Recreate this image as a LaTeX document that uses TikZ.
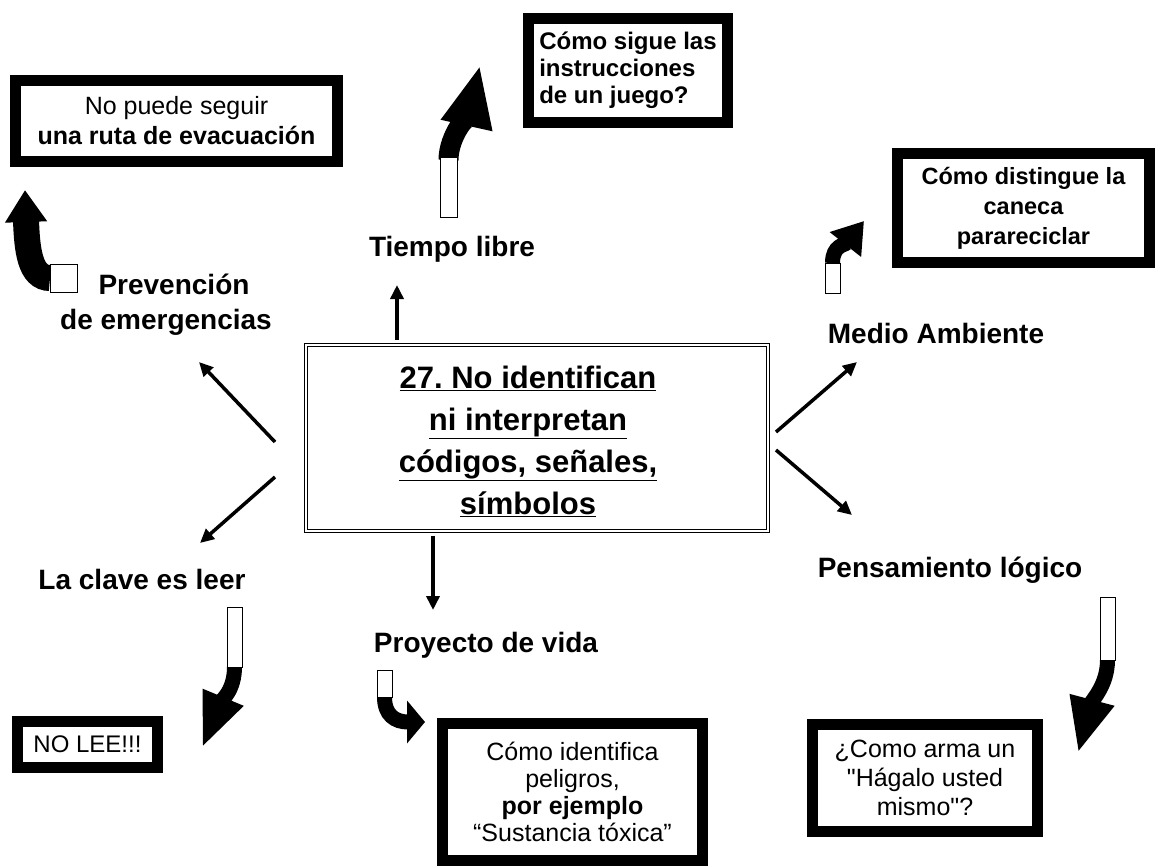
\documentclass[tikz,border=0pt]{standalone}
\usepackage{fontspec}
\setmainfont{Liberation Sans}
\usetikzlibrary{arrows.meta, positioning}
\frenchspacing

\tikzset{
  etiqueta/.style={font=\bfseries\fontsize{28}{35}\selectfont, inner sep=0pt, align=center},
  cajon/.style={draw, line width=11pt, fill=white, inner sep=0pt, align=center},
  marco/.style={draw, double, double distance=2.5pt, line width=1pt, minimum width=462pt, minimum height=186pt},
  flecha/.style={line width=3.5pt, -{Triangle[length=14pt,width=13pt]}},
  cola/.style={draw, fill=white, line width=1pt},
}

\begin{document}
\begin{tikzpicture}[x=1pt,y=-1pt]
  \useasboundingbox (0,0) rectangle (1159,867);

  % central box
  \node[marco] (prob) at (537,438) {};
  \node[font=\bfseries\fontsize{31}{42}\selectfont, align=center, inner sep=0pt] (probtxt) at (528,441)
    {\underline{27. No identifican}\\\underline{ni interpretan}\\\underline{códigos, señales,}\\\underline{símbolos}};

  % labels
  \node[etiqueta, anchor=base] (tiempo) at (452,256) {Tiempo libre};
  \node[etiqueta] (prev) at (166,305) {\hspace*{16pt}Prevención\\de emergencias};
  \node[etiqueta, anchor=base] (medio) at (936,343) {Medio Ambiente};
  \node[etiqueta, anchor=base] (pens) at (950,577) {Pensamiento lógico};
  \node[etiqueta, anchor=base] (proy) at (486,652) {Proyecto de vida};
  \node[etiqueta, anchor=base] (clave) at (142,589) {La clave es leer};

  % boxes
  \node[cajon, minimum width=322pt, minimum height=81pt, font=\fontsize{25}{30}\selectfont] (b1) at (176.5,121)
    {No puede seguir\\\textbf{una ruta de evacuación}};
  \node[cajon, minimum width=199pt, minimum height=104pt, align=left, font=\bfseries\fontsize{24}{27}\selectfont] (b2) at (628,70.5)
    {Cómo sigue las\\instrucciones\\de un juego?};
  \node[cajon, minimum width=252pt, minimum height=109pt, font=\bfseries\fontsize{23.5}{30}\selectfont] (b3) at (1023.5,208)
    {Cómo distingue la\\caneca\\parareciclar};
  \node[cajon, minimum width=140pt, minimum height=46pt, font=\fontsize{24}{28}\selectfont] (b4) at (87.5,744.5)
    {NO LEE!!!};
  \node[cajon, minimum width=260pt, minimum height=137pt, font=\fontsize{25}{27}\selectfont] (b5) at (572.5,792)
    {Cómo identifica\\peligros,\\\textbf{por ejemplo}\\“Sustancia tóxica”};
  \node[cajon, minimum width=225pt, minimum height=107pt, font=\fontsize{25}{29}\selectfont] (b6) at (925,778)
    {¿Como arma un\\\textquotedbl Hágalo usted\\mismo\textquotedbl?};

  % straight arrows
  \coordinate (up) at (397,285);
  \coordinate (dn) at (433,610);
  \draw[flecha, shorten <=5pt] (prob.north -| up) -- (up);
  \draw[flecha, shorten <=4pt] (prob.south -| dn) -- (dn);
  \coordinate (lu0) at (275,442); \coordinate (lu1) at (199,362);
  \coordinate (ld0) at (275,477); \coordinate (ld1) at (200,543);
  \coordinate (ru0) at (776,432); \coordinate (ru1) at (857,362);
  \coordinate (rd0) at (776,450); \coordinate (rd1) at (852,515);
  \draw[flecha] (lu0) -- (lu1);
  \draw[flecha] (ld0) -- (ld1);
  \draw[flecha] (ru0) -- (ru1);
  \draw[flecha] (rd0) -- (rd1);

  % curved block arrows
  \draw[line width=26pt, -{Triangle[length=32pt,width=40pt]}] (50,278) .. controls (30,278) and (27,250) .. (25,190);
  \draw[cola] (50,264) rectangle (77,292);

  \draw[line width=20pt, -{Triangle[length=62pt,width=48pt]}] (448.5,160) .. controls (448.5,135) and (470,110) .. (480,65);
  \draw[cola] (440,157) rectangle (457,217);

  \draw[line width=15pt, -{Triangle[length=30pt,width=38pt]}] (832.5,263) .. controls (832.5,245) and (845,245) .. (864,221);
  \draw[cola] (825,263) rectangle (840,293);

  \draw[line width=15pt, -{Triangle[length=55pt,width=40pt]}] (234.5,667) .. controls (234.5,690) and (222,700) .. (202,748);
  \draw[cola] (227,607) rectangle (242,667);

  \draw[line width=15pt, -{Triangle[length=18pt,width=42pt]}] (384.5,697) .. controls (384.5,715) and (395,722) .. (425,722);
  \draw[cola] (377,670) rectangle (392,697);

  \draw[line width=15pt, -{Triangle[length=55pt,width=42pt]}] (1107.5,660) .. controls (1107.5,685) and (1092,700) .. (1078,753);
  \draw[cola] (1100,597) rectangle (1115,660);
\end{tikzpicture}
\end{document}
